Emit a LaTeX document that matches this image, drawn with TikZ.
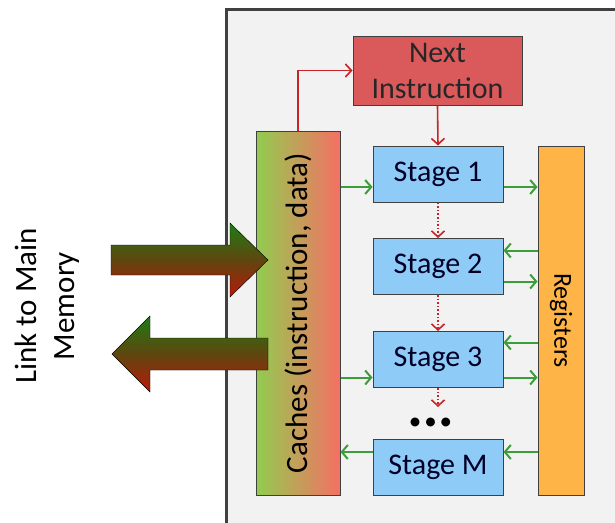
\documentclass[tikz,border=0pt]{standalone}
\usepackage{fontspec}
\setmainfont{Carlito}
\usetikzlibrary{arrows.meta}
\definecolor{framegray}{RGB}{242,242,242}
\definecolor{edgegray}{RGB}{64,64,64}
\definecolor{nextred}{RGB}{218,90,92}
\definecolor{stageblue}{RGB}{142,204,247}
\definecolor{regorange}{RGB}{255,180,71}
\definecolor{cachegreen}{RGB}{146,204,80}
\definecolor{cachered}{RGB}{244,112,100}
\definecolor{linkgreen}{RGB}{60,158,56}
\definecolor{linkred}{RGB}{200,36,40}
\definecolor{bigtop}{RGB}{30,125,20}
\definecolor{bigmid}{RGB}{95,70,15}
\definecolor{bigbot}{RGB}{185,25,10}
\begin{document}
\begin{tikzpicture}[x=1pt,y=-1pt,
  box/.style={draw=edgegray,line width=1pt,inner sep=0pt,text=black!85!blue},
  stagebox/.style={box,fill=stageblue,minimum width=130pt,minimum height=56pt,font=\fontsize{30}{34}\selectfont},
  garrow/.style={linkgreen,line width=2pt,-{Straight Barb[length=6pt,width=14pt]}},
  rarrow/.style={linkred,line width=1.6pt,-{Straight Barb[length=6pt,width=13pt]}},
  bigarrow/.style={top color=bigtop,bottom color=bigbot,middle color=bigmid}]
        \useasboundingbox (0,0) rectangle (615,522);
        \clip (0,0) rectangle (615,522);

        % Processor frame
        \draw[edgegray,line width=3pt,fill=framegray] (226,9) rectangle (650,560);

        % Caches and registers
        \node[box,left color=cachegreen,right color=cachered,minimum width=84pt,minimum height=364pt] (caches) at (298,313) {};
        \node[rotate=90,font=\fontsize{31}{34}\selectfont] (cachestext) at (caches) {Caches (instruction, data)};
        \node[box,fill=regorange,minimum width=46pt,minimum height=349pt] (regs) at (561,320.5) {};
        \node[rotate=-90,font=\fontsize{26}{30}\selectfont] (regstext) at (regs) {Registers};

        % Next instruction and stages
        \node[box,fill=nextred,minimum width=169pt,minimum height=69pt,align=center,text=black!85,font=\fontsize{30}{36}\selectfont] (next) at (437.5,70.5) {Next\\Instruction};
        \node[stagebox] (stage1) at (438,174) {Stage 1};
        \node[stagebox] (stage2) at (438,266.5) {Stage 2};
        \node[stagebox] (stage3) at (438,359.5) {Stage 3};
        \node[inner sep=0pt,font=\fontsize{25}{25}\selectfont] (dots) at (430.5,424) {\textbullet\hspace{3pt}\textbullet\hspace{3pt}\textbullet};
        \node[stagebox] (stageM) at (438,467) {Stage M};

        % Instruction flow
        \draw[rarrow] (caches.north) |- (next.west);
        \draw[rarrow] (next.south) -- (stage1.north);
        \draw[rarrow,dotted] (stage1.south) -- (stage2.north);
        \draw[rarrow,dotted] (stage2.south) -- (stage3.north);
        \draw[rarrow,dotted] (stage3.south) -- ([yshift=17pt]stage3.south |- dots.center);

        % Data paths
        \draw[garrow] ([yshift=-13pt]stage1.west -| caches.east) -- ([yshift=-13pt]stage1.west);
        \draw[garrow] ([yshift=-13pt]stage1.east) -- ([yshift=-13pt]stage1.east -| regs.west);
        \draw[garrow] ([yshift=16pt]stage2.east -| regs.west) -- ([yshift=16pt]stage2.east);
        \draw[garrow] ([yshift=-15pt]stage2.east) -- ([yshift=-15pt]stage2.east -| regs.west);
        \draw[garrow] ([yshift=17pt]stage3.east -| regs.west) -- ([yshift=17pt]stage3.east);
        \draw[garrow] ([yshift=-18pt]stage3.east) -- ([yshift=-18pt]stage3.east -| regs.west);
        \draw[garrow] ([yshift=-18pt]stage3.west -| caches.east) -- ([yshift=-18pt]stage3.west);
        \draw[garrow] ([yshift=15pt]stageM.east -| regs.west) -- ([yshift=15pt]stageM.east);
        \draw[garrow] ([yshift=15pt]stageM.west) -- ([yshift=15pt]stageM.west -| caches.east);

        % Link to main memory
        \draw[bigarrow] (111,245) -- (230,245) -- (230,223) -- (268,260) -- (230,297) -- (230,275) -- (111,275) -- cycle;
        \draw[bigarrow] (268,338) -- (150,338) -- (150,316) -- (112,354) -- (150,392) -- (150,370) -- (268,370) -- cycle;
        \node[rotate=90,align=center,font=\fontsize{31}{38}\selectfont] (link) at (47,306) {Link to Main\\Memory};
\end{tikzpicture}
\end{document}
